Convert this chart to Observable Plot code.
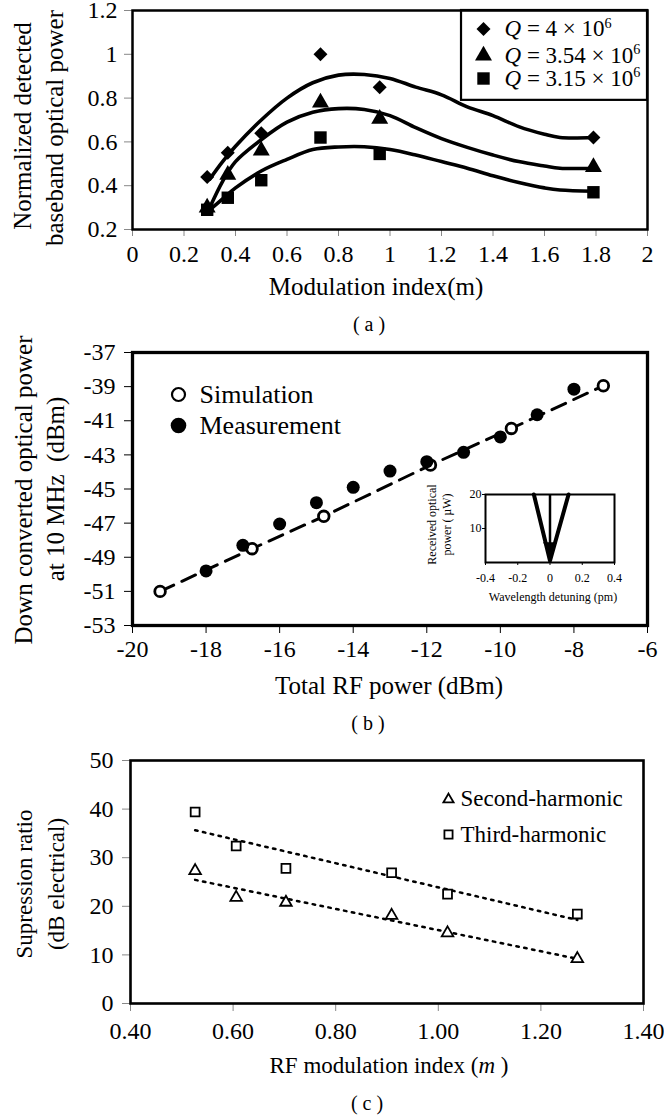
<!DOCTYPE html>
<html><head><meta charset="utf-8">
<script src="https://cdn.jsdelivr.net/npm/d3@7"></script>
<script src="https://cdn.jsdelivr.net/npm/@observablehq/plot@0.6"></script>
<style>
html,body{margin:0;padding:0;background:#fff;}
#wrap{width:664px;}
.panel{position:relative;width:664px;}
.panel svg{display:block;overflow:visible;}
#inset{position:absolute;left:420px;top:135px;}
</style></head>
<body>
<div id="wrap">
  <div class="panel" id="pa"></div>
  <div class="panel" id="pb"><div id="inset"></div></div>
  <div class="panel" id="pc"></div>
</div>
<script>
const SERIF = "'Liberation Serif','Times New Roman',serif";

// ---------- Panel (a) data ----------
const modIndex = [0.29, 0.37, 0.50, 0.73, 0.96, 1.79];
const powQ400 = [0.44, 0.55, 0.64, 1.00, 0.85, 0.62];
const powQ354 = [0.30, 0.45, 0.56, 0.78, 0.705, 0.485];
const powQ315 = [0.29, 0.345, 0.425, 0.62, 0.545, 0.37];
const fitX    = [0.30, 0.35, 0.40, 0.50, 0.60, 0.70, 0.80, 0.90, 1.00, 1.10, 1.20, 1.30, 1.40, 1.50, 1.60, 1.66, 1.79];
const fitQ400 = [0.43, 0.51, 0.58, 0.70, 0.80, 0.87, 0.905, 0.908, 0.89, 0.85, 0.815, 0.76, 0.72, 0.67, 0.635, 0.62, 0.62];
const fitQ354 = [0.30, 0.42, 0.51, 0.61, 0.69, 0.735, 0.752, 0.748, 0.72, 0.665, 0.615, 0.575, 0.54, 0.51, 0.49, 0.48, 0.48];
const fitQ315 = [0.29, 0.34, 0.39, 0.467, 0.52, 0.565, 0.577, 0.578, 0.565, 0.54, 0.51, 0.48, 0.445, 0.415, 0.39, 0.38, 0.375];
const qValues = ["4", "3.54", "3.15"];
const xTicksA = [0, 0.2, 0.4, 0.6, 0.8, 1, 1.2, 1.4, 1.6, 1.8, 2];
const yTicksA = [0.2, 0.4, 0.6, 0.8, 1, 1.2];

// ---------- Panel (b) data ----------
const simRF   = [-19.25, -16.75, -14.8, -11.9, -9.7, -7.2];
const simOpt  = [-51.0, -48.5, -46.6, -43.6, -41.45, -38.95];
const measRF  = [-18, -17, -16, -15, -14, -13, -12, -11, -10, -9, -8];
const measOpt = [-49.8, -48.3, -47.05, -45.8, -44.9, -43.95, -43.4, -42.85, -41.95, -40.65, -39.15];
const xTicksB = [-20, -18, -16, -14, -12, -10, -8, -6];
const yTicksB = [-53, -51, -49, -47, -45, -43, -41, -39, -37];
// inset
const insetDetuning = [-0.10, 0.0, 0.115];
const insetPower    = [20, 0.5, 20];
const arrowX = [0], arrowTop = [20], arrowTip = [4.8];
const insetXTicks = [-0.4, -0.2, 0, 0.2, 0.4];
const insetYTicks = [10, 20];

// ---------- Panel (c) data ----------
const rfIndex   = [0.526, 0.606, 0.703, 0.909, 1.018, 1.271];
const secondHar = [27.3, 21.8, 20.8, 18.1, 14.5, 9.2];
const thirdHar  = [39.4, 32.4, 27.8, 26.9, 22.5, 18.4];
const xTicksC = [0.4, 0.6, 0.8, 1.0, 1.2, 1.4];
const yTicksC = [0, 10, 20, 30, 40, 50];

const zip = (xs, ys) => xs.map((x, i) => ({x, y: ys[i]}));
const T = {textAnchor: "middle", lineAnchor: "middle"};
const AX = {fontFamily: SERIF, fontSize: 24, fontVariant: "normal", label: null};

// ================= Panel (a) =================
const symA = ["diamond2", "triangle", "square"];
const rA = [6.3, 6.3, 7];
const seriesA = [powQ400, powQ354, powQ315];
const fitsA = [fitQ400, fitQ354, fitQ315];
const legDyA = [18.5, 45, 68];

const plotA = Plot.plot({
  width: 664, height: 345,
  marginLeft: 132, marginRight: 17, marginTop: 10, marginBottom: 116,
  style: {fontFamily: SERIF, fontSize: "24px", color: "#000", background: "#fff", overflow: "visible"},
  x: {domain: [0, 2]},
  y: {domain: [0.2, 1.2]},
  marks: [
    Plot.axisX({...AX, ticks: xTicksA, tickFormat: d => String(d), tickSize: 7, tickPadding: 8, stroke: "#888"}),
    Plot.axisY({...AX, ticks: yTicksA, tickFormat: d => String(d), tickSize: 8, tickPadding: 7, stroke: "#888"}),
    Plot.frame({strokeWidth: 2.5}),
    ...fitsA.map(f => Plot.line(zip(fitX, f), {x: "x", y: "y", curve: "catmull-rom", strokeWidth: 3.6, stroke: "#000"})),
    ...seriesA.map((s, k) => Plot.dot(zip(modIndex, s), {x: "x", y: "y", symbol: () => symA[k], r: rA[k], fill: "#000", stroke: "none"})),
    ...qValues.map((q, k) => Plot.dot([q], {frameAnchor: "top-right", dx: -164, dy: legDyA[k], symbol: () => symA[k], r: rA[k], fill: "#000", stroke: "none", ariaDescription: "legend-a"})),
    ...qValues.map((q, k) => Plot.text([q], {frameAnchor: "top-right", dx: -143, dy: legDyA[k], text: d => `Q = ${d} × 10^6`, textAnchor: "start", lineAnchor: "middle", fontSize: 23, ariaDescription: "legend-a"})),
    Plot.text(["Modulation index(m)"], {...T, frameAnchor: "bottom", dx: -14, dy: 57, fontSize: 25}),
    Plot.text(["( a )"], {...T, frameAnchor: "bottom", dx: -21, dy: 95, fontSize: 20}),
    Plot.text(["Normalized detected"], {...T, frameAnchor: "left", rotate: -90, dx: -110, dy: 6, fontSize: 25}),
    Plot.text(["baseband optical power"], {...T, frameAnchor: "left", rotate: -90, dx: -78, dy: 8, fontSize: 25})
  ]
});

// ================= Panel (b) =================
const sim = zip(simRF, simOpt);
const meas = zip(measRF, measOpt);
const plotB = Plot.plot({
  width: 664, height: 395,
  marginLeft: 132, marginRight: 17, marginTop: 7, marginBottom: 115,
  style: {fontFamily: SERIF, fontSize: "24px", color: "#000", background: "#fff", overflow: "visible"},
  x: {domain: [-20, -6]},
  y: {domain: [-53, -37]},
  marks: [
    Plot.axisX({...AX, ticks: xTicksB, tickFormat: d => String(d), tickSize: 8, tickPadding: 6}),
    Plot.axisY({...AX, ticks: yTicksB, tickFormat: d => String(d), tickSize: 8, tickPadding: 9}),
    Plot.frame({strokeWidth: 3.3}),
    Plot.line(sim, {x: "x", y: "y", strokeWidth: 3, strokeDasharray: "15,9", stroke: "#000"}),
    Plot.dot(sim, {x: "x", y: "y", r: 5.3, stroke: "#000", strokeWidth: 2.8, fill: "#fff"}),
    Plot.dot(meas, {x: "x", y: "y", r: 6.5, fill: "#000", stroke: "none"}),
    Plot.dot(["Simulation"], {frameAnchor: "top-left", dx: 46, dy: 42, r: 6.5, stroke: "#000", strokeWidth: 2.2, fill: "#fff"}),
    Plot.dot(["Measurement"], {frameAnchor: "top-left", dx: 46, dy: 73, r: 7.8, fill: "#000", stroke: "none"}),
    Plot.text(["Simulation"], {frameAnchor: "top-left", dx: 67, dy: 42, textAnchor: "start", lineAnchor: "middle", fontSize: 26}),
    Plot.text(["Measurement"], {frameAnchor: "top-left", dx: 67, dy: 73, textAnchor: "start", lineAnchor: "middle", fontSize: 26}),
    Plot.text(["Total RF power (dBm)"], {...T, frameAnchor: "bottom", dx: -1, dy: 60, fontSize: 25}),
    Plot.text(["( b )"], {...T, frameAnchor: "bottom", dx: -22, dy: 98, fontSize: 20}),
    Plot.text(["Down converted optical power"], {...T, frameAnchor: "left", rotate: -90, dx: -109, dy: 1, fontSize: 25}),
    Plot.text(["at 10 MHz  (dBm)"], {...T, frameAnchor: "left", rotate: -90, dx: -77, dy: 0, fontSize: 25})
  ]
});

const plotInset = Plot.plot({
  width: 210, height: 130,
  marginLeft: 65, marginRight: 16, marginTop: 14, marginBottom: 48,
  style: {fontFamily: SERIF, fontSize: "12px", color: "#000", background: "transparent", overflow: "visible"},
  x: {domain: [-0.4, 0.4]},
  y: {domain: [0, 20]},
  marks: [
    Plot.axisX({...AX, fontSize: 12, ticks: insetXTicks, tickFormat: d => String(d), tickSize: 3, tickPadding: 8}),
    Plot.axisY({...AX, fontSize: 12, ticks: insetYTicks, tickFormat: d => String(d), tickSize: 3, tickPadding: 1}),
    Plot.frame({strokeWidth: 2}),
    Plot.line(zip(insetDetuning, insetPower), {x: "x", y: "y", strokeWidth: 4, stroke: "#000"}),
    Plot.ruleX(arrowX.map((x, i) => ({x, y1: arrowTop[i], y2: arrowTip[i]})), {x: "x", y1: "y1", y2: "y2", strokeWidth: 2.5, stroke: "#000"}),
    Plot.dot(arrowX.map((x, i) => ({x, y: arrowTip[i]})), {x: "x", y: "y", symbol: "triangle", rotate: 180, r: 5.2, fill: "#000", stroke: "none"}),
    Plot.text(["Wavelength detuning (pm)"], {...T, frameAnchor: "bottom", dx: 3, dy: 35, fontSize: 12}),
    Plot.text(["Received optical"], {...T, frameAnchor: "left", rotate: -90, dx: -53, dy: -4, fontSize: 12}),
    Plot.text(["power ( µW)"], {...T, frameAnchor: "left", rotate: -90, dx: -38, dy: -4, fontSize: 12})
  ]
});

// ================= Panel (c) =================
const second = zip(rfIndex, secondHar);
const third = zip(rfIndex, thirdHar);
const plotC = Plot.plot({
  width: 664, height: 377,
  marginLeft: 130, marginRight: 21, marginTop: 20, marginBottom: 114,
  style: {fontFamily: SERIF, fontSize: "24px", color: "#000", background: "#fff", overflow: "visible"},
  x: {domain: [0.4, 1.4]},
  y: {domain: [0, 50]},
  marks: [
    Plot.axisX({...AX, ticks: xTicksC, tickFormat: d3.format(".2f"), tickSize: 8, tickPadding: 10, stroke: "#888"}),
    Plot.axisY({...AX, ticks: yTicksC, tickFormat: d => String(d), tickSize: 8, tickPadding: 9, stroke: "#888"}),
    Plot.frame({strokeWidth: 2.6}),
    Plot.linearRegressionY(third, {x: "x", y: "y", ci: 0, stroke: "#000", strokeWidth: 2.5, strokeDasharray: "2.5,5.5"}),
    Plot.linearRegressionY(second, {x: "x", y: "y", ci: 0, stroke: "#000", strokeWidth: 2.5, strokeDasharray: "2.5,5.5"}),
    Plot.dot(third, {x: "x", y: "y", symbol: "square", r: 5, fill: "#fff", stroke: "#000", strokeWidth: 1.8}),
    Plot.dot(second, {x: "x", y: "y", symbol: "triangle", r: 4.3, fill: "#fff", stroke: "#000", strokeWidth: 1.8}),
    Plot.dot(["Second-harmonic"], {frameAnchor: "top-right", dx: -195, dy: 39, symbol: "triangle", r: 3.8, fill: "#fff", stroke: "#000", strokeWidth: 1.8}),
    Plot.dot(["Third-harmonic"], {frameAnchor: "top-right", dx: -195, dy: 74, symbol: "square", r: 4.6, fill: "#fff", stroke: "#000", strokeWidth: 1.8}),
    Plot.text(["Second-harmonic"], {frameAnchor: "top-right", dx: -183, dy: 38, textAnchor: "start", lineAnchor: "middle", fontSize: 23}),
    Plot.text(["Third-harmonic"], {frameAnchor: "top-right", dx: -183, dy: 74, textAnchor: "start", lineAnchor: "middle", fontSize: 23}),
    Plot.text(["RF modulation index (m )"], {...T, frameAnchor: "bottom", dx: 2, dy: 62, fontSize: 23}),
    Plot.text(["( c )"], {...T, frameAnchor: "bottom", dx: -20, dy: 100, fontSize: 20}),
    Plot.text(["Supression ratio"], {...T, frameAnchor: "left", rotate: -90, dx: -106, dy: 2, fontSize: 23}),
    Plot.text(["(dB electrical)"], {...T, frameAnchor: "left", rotate: -90, dx: -74, dy: 2, fontSize: 23})
  ]
});

document.getElementById("pa").appendChild(plotA);
document.getElementById("pb").insertBefore(plotB, document.getElementById("inset"));
document.getElementById("inset").appendChild(plotInset);
document.getElementById("pc").appendChild(plotC);

// ---------- rich text: italic Q and superscripts ----------
d3.select(plotA).selectAll("text").each(function() {
  const t = this.textContent;
  const m = t.match(/^Q = (.+) × 10\^6$/);
  if (m && this.children.length === 0) {
    const s = d3.select(this);
    s.text(null);
    s.append("tspan").attr("font-style", "italic").text("Q");
    s.append("tspan").text(" = " + m[1] + " × 10");
    s.append("tspan").attr("font-size", "0.62em").attr("dy", "-0.6em").text("6");
  }
});
d3.select(plotC).selectAll("text").each(function() {
  if (this.textContent === "RF modulation index (m )" && this.children.length === 0) {
    const s = d3.select(this);
    s.text(null);
    s.append("tspan").text("RF modulation index (");
    s.append("tspan").attr("font-style", "italic").text("m");
    s.append("tspan").text(" )");
  }
});

// ---------- legend box for panel (a), sized from the legend marks ----------
(function() {
  const svgRect = plotA.getBoundingClientRect();
  let x0 = Infinity, y1 = -Infinity;
  plotA.querySelectorAll('g[aria-description="legend-a"]').forEach(g => {
    const b = g.getBoundingClientRect();
    x0 = Math.min(x0, b.left - svgRect.left);
    y1 = Math.max(y1, b.bottom - svgRect.top);
  });
  if (!isFinite(x0)) { x0 = 476; y1 = 88; }
  const top = 10, right = 664 - 17;
  d3.select(plotA).append("rect")
    .attr("x", x0 - 14).attr("y", top)
    .attr("width", right - (x0 - 14)).attr("height", (y1 + 9) - top)
    .attr("fill", "none").attr("stroke", "#000").attr("stroke-width", 2.2);
})();
</script>
</body></html>
